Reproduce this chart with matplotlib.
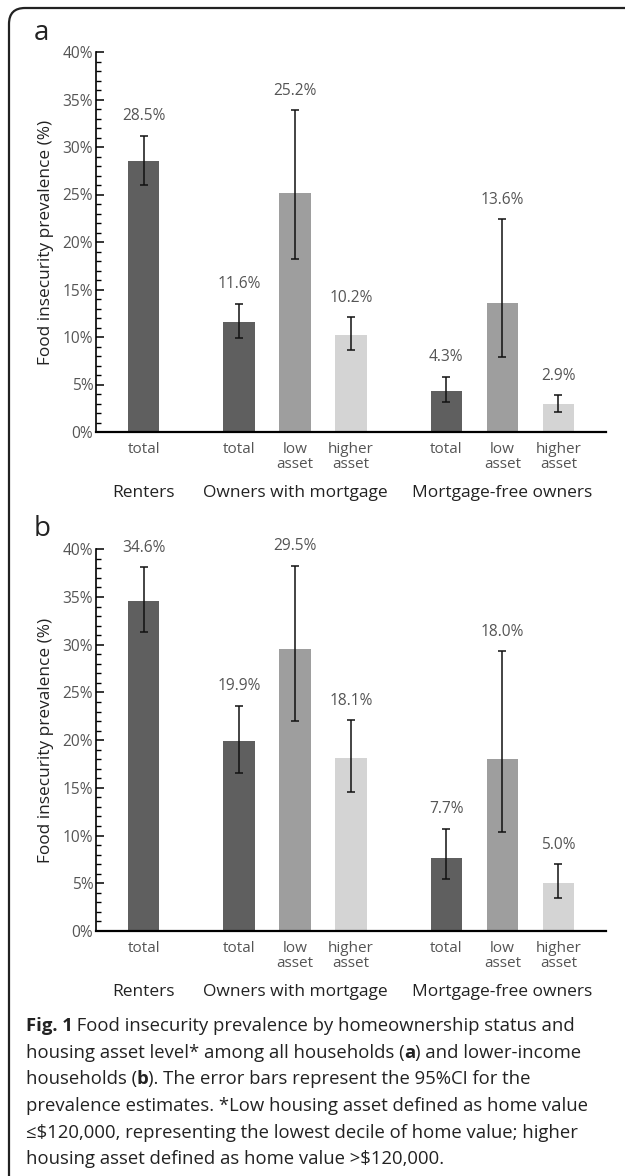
import matplotlib
matplotlib.use("Agg")
import matplotlib.pyplot as plt
from matplotlib.patches import FancyBboxPatch
from matplotlib.transforms import IdentityTransform, blended_transform_factory

plt.rcParams['font.family'] = ['Open Sans', 'DejaVu Sans']

positions = [0, 1.7, 2.7, 3.7, 5.4, 6.4, 7.4]
tick_labels = ['total', 'total', 'low\nasset', 'higher\nasset', 'total', 'low\nasset', 'higher\nasset']
bar_colors = ['#5f5f5f', '#5f5f5f', '#9e9e9e', '#d4d4d4', '#5f5f5f', '#9e9e9e', '#d4d4d4']
groups = ['Renters', 'Owners with mortgage', 'Mortgage-free owners']
group_pos = [0, 2.7, 6.4]

# panel a: all households
prev_a = [28.5, 11.6, 25.2, 10.2, 4.3, 13.6, 2.9]
low_a = [26.0, 9.9, 18.2, 8.6, 3.2, 7.9, 2.1]
high_a = [31.2, 13.5, 33.9, 12.1, 5.8, 22.4, 3.9]

# panel b: lower-income households
prev_b = [34.6, 19.9, 29.5, 18.1, 7.7, 18.0, 5.0]
low_b = [31.3, 16.6, 22.0, 14.6, 5.5, 10.4, 3.5]
high_b = [38.1, 23.6, 38.3, 22.1, 10.7, 29.3, 7.0]

W, H = 625, 1176
fig = plt.figure(figsize=(W / 100, H / 100), dpi=100)

# frame around the figure (only top/left visible, rounded corner)
frame = FancyBboxPatch((9, -60), 1200, H - 8 + 60, boxstyle="round,pad=0,rounding_size=16",
                       transform=IdentityTransform(), fill=False, lw=1.6, ec='#222222')
fig.patches.append(frame)


def panel(rect, prev, lo, hi, letter, letter_y):
    ax = fig.add_axes(rect)
    ax.bar(positions, prev, width=0.56, color=bar_colors)
    yerr = [[p - l for p, l in zip(prev, lo)], [h - p for p, h in zip(prev, hi)]]
    ax.errorbar(positions, prev, yerr=yerr, fmt='none', ecolor='#111111',
                elinewidth=1.1, capsize=2.6, capthick=1.1)
    for x, h, p in zip(positions, hi, prev):
        ax.annotate(f"{p:.1f}%", (x, h), xytext=(0, 14), textcoords='offset points',
                    ha='center', va='center', fontsize=11.2, color='#555555')
    ax.set_xlim(-0.85, 8.25)
    ax.set_ylim(0, 40)
    ax.set_yticks(range(0, 41, 5))
    ax.set_yticklabels([f"{v}%" for v in range(0, 41, 5)])
    ax.set_yticks(range(0, 41), minor=True)
    ax.set_xticks(positions)
    ax.set_xticklabels(tick_labels)
    for lbl in ax.get_xticklabels():
        lbl.set_linespacing(1.0)
    ax.tick_params(axis='x', length=0, pad=7, labelsize=11, labelcolor='#555555')
    ax.tick_params(axis='y', which='major', direction='in', length=6, width=1.1,
                   labelsize=11.2, labelcolor='#555555', pad=2)
    ax.tick_params(axis='y', which='minor', direction='in', length=3.5, width=1.0)
    ax.spines['top'].set_visible(False)
    ax.spines['right'].set_visible(False)
    ax.spines['left'].set_linewidth(1.2)
    ax.spines['bottom'].set_linewidth(1.6)
    ax.set_ylabel('Food insecurity prevalence (%)', fontsize=12.4, color='#222222', labelpad=6)
    tr = blended_transform_factory(ax.transData, ax.transAxes)
    for g, gx in zip(groups, group_pos):
        ax.text(gx, -0.16, g, transform=tr, ha='center', va='center', fontsize=12.5, color='#222222')
    fig.text(34 / W, 1 - letter_y / H, letter, fontsize=20, ha='left', va='center', color='#222222')
    return ax


panel([96 / W, 1 - 432 / H, 510 / W, 380 / H], prev_a, low_a, high_a, 'a', 33)
panel([96 / W, 1 - 931 / H, 510 / W, 381.7 / H], prev_b, low_b, high_b, 'b', 529)

# caption with bold pieces
caption = [
    [("Fig. 1", 'bold'), (" Food insecurity prevalence by homeownership status and", 'normal')],
    [("housing asset level* among all households (", 'normal'), ("a", 'bold'), (") and lower-income", 'normal')],
    [("households (", 'normal'), ("b", 'bold'), ("). The error bars represent the 95%CI for the", 'normal')],
    [("prevalence estimates. *Low housing asset defined as home value", 'normal')],
    [("≤$120,000, representing the lowest decile of home value; higher", 'normal')],
    [("housing asset defined as home value >$120,000.", 'normal')],
]
renderer = fig.canvas.get_renderer()
y0 = 1026
for i, parts in enumerate(caption):
    x = 25.5
    y = H - (y0 + i * 26.7)
    for s, w in parts:
        t = fig.text(x / W, y / H, s, fontsize=13.3, fontweight=w, color='#222222',
                     ha='left', va='center')
        bb = t.get_window_extent(renderer)
        x += bb.width

plt.savefig('out.png', dpi=100)
